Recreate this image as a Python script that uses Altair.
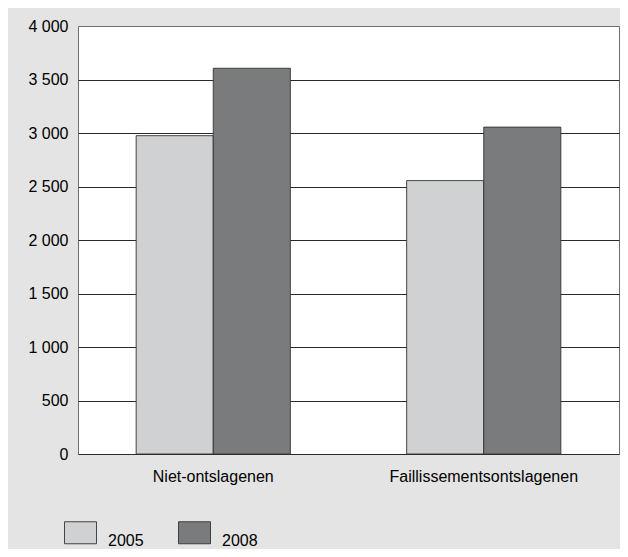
import altair as alt
import pandas as pd

categories = ["Niet-ontslagenen", "Faillissementsontslagenen"]
years = ["2005", "2008"]
values_2005 = [2975, 2555]
values_2008 = [3605, 3055]
y_ticks = [0, 500, 1000, 1500, 2000, 2500, 3000, 3500, 4000]
colors = ["#d0d1d3", "#7a7b7d"]

rows = []
for i, c in enumerate(categories):
    rows.append({"cat": c, "year": years[0], "value": values_2005[i]})
    rows.append({"cat": c, "year": years[1], "value": values_2008[i]})
df = pd.DataFrame(rows)

FONT = "Liberation Sans"

chart = alt.Chart(df).mark_bar(stroke="#333333", strokeWidth=0.9).encode(
    x=alt.X("cat:N", sort=categories, title=None,
            scale=alt.Scale(paddingInner=0.43, paddingOuter=0.215),
            axis=alt.Axis(labelAngle=0, ticks=False, domain=False, labelPadding=14,
                          labelLimit=0,
                          labelFontSize=16, labelFont=FONT, labelColor="#000000")),
    xOffset=alt.XOffset("year:N", sort=years, scale=alt.Scale(paddingInner=0, paddingOuter=0)),
    y=alt.Y("value:Q", title=None,
            scale=alt.Scale(domain=[0, 4000], nice=False),
            axis=alt.Axis(values=y_ticks, ticks=False, domain=False, labelPadding=10,
                          labelFontSize=16, labelFont=FONT, labelColor="#000000",
                          labelExpr="replace(format(datum.value, ','), ',', ' ')",
                          gridColor={"condition": {"test": "datum.value === 4000", "value": "#6e6e6e"},
                                     "value": "#2a2a2a"},
                          gridWidth=1)),
    color=alt.Color("year:N", sort=years, scale=alt.Scale(domain=years, range=colors),
                    legend=alt.Legend(title=None, orient="none", direction="horizontal",
                                      legendX=-14, legendY=490, padding=0,
                                      symbolType="M-1,-0.6875H1V0.6875H-1Z", symbolSize=1024,
                                      symbolStrokeColor="#333333", symbolStrokeWidth=0.9,
                                      symbolOpacity=1,
                                      labelFontSize=16, labelFont=FONT, labelColor="#000000",
                                      labelOffset=11, labelBaseline="top",
                                      columnPadding=32)),
).properties(
    width=541,
    height=428,
    autosize=alt.AutoSizeParams(type="none"),
    padding={"left": 70, "top": 18, "right": 1, "bottom": 95},
).configure(
    background="#e4e4e4",
).configure_view(
    fill="#ffffff", stroke="#6e6e6e", strokeWidth=1,
)

chart.save("out.html", embed_options={"renderer": "svg", "actions": False})
